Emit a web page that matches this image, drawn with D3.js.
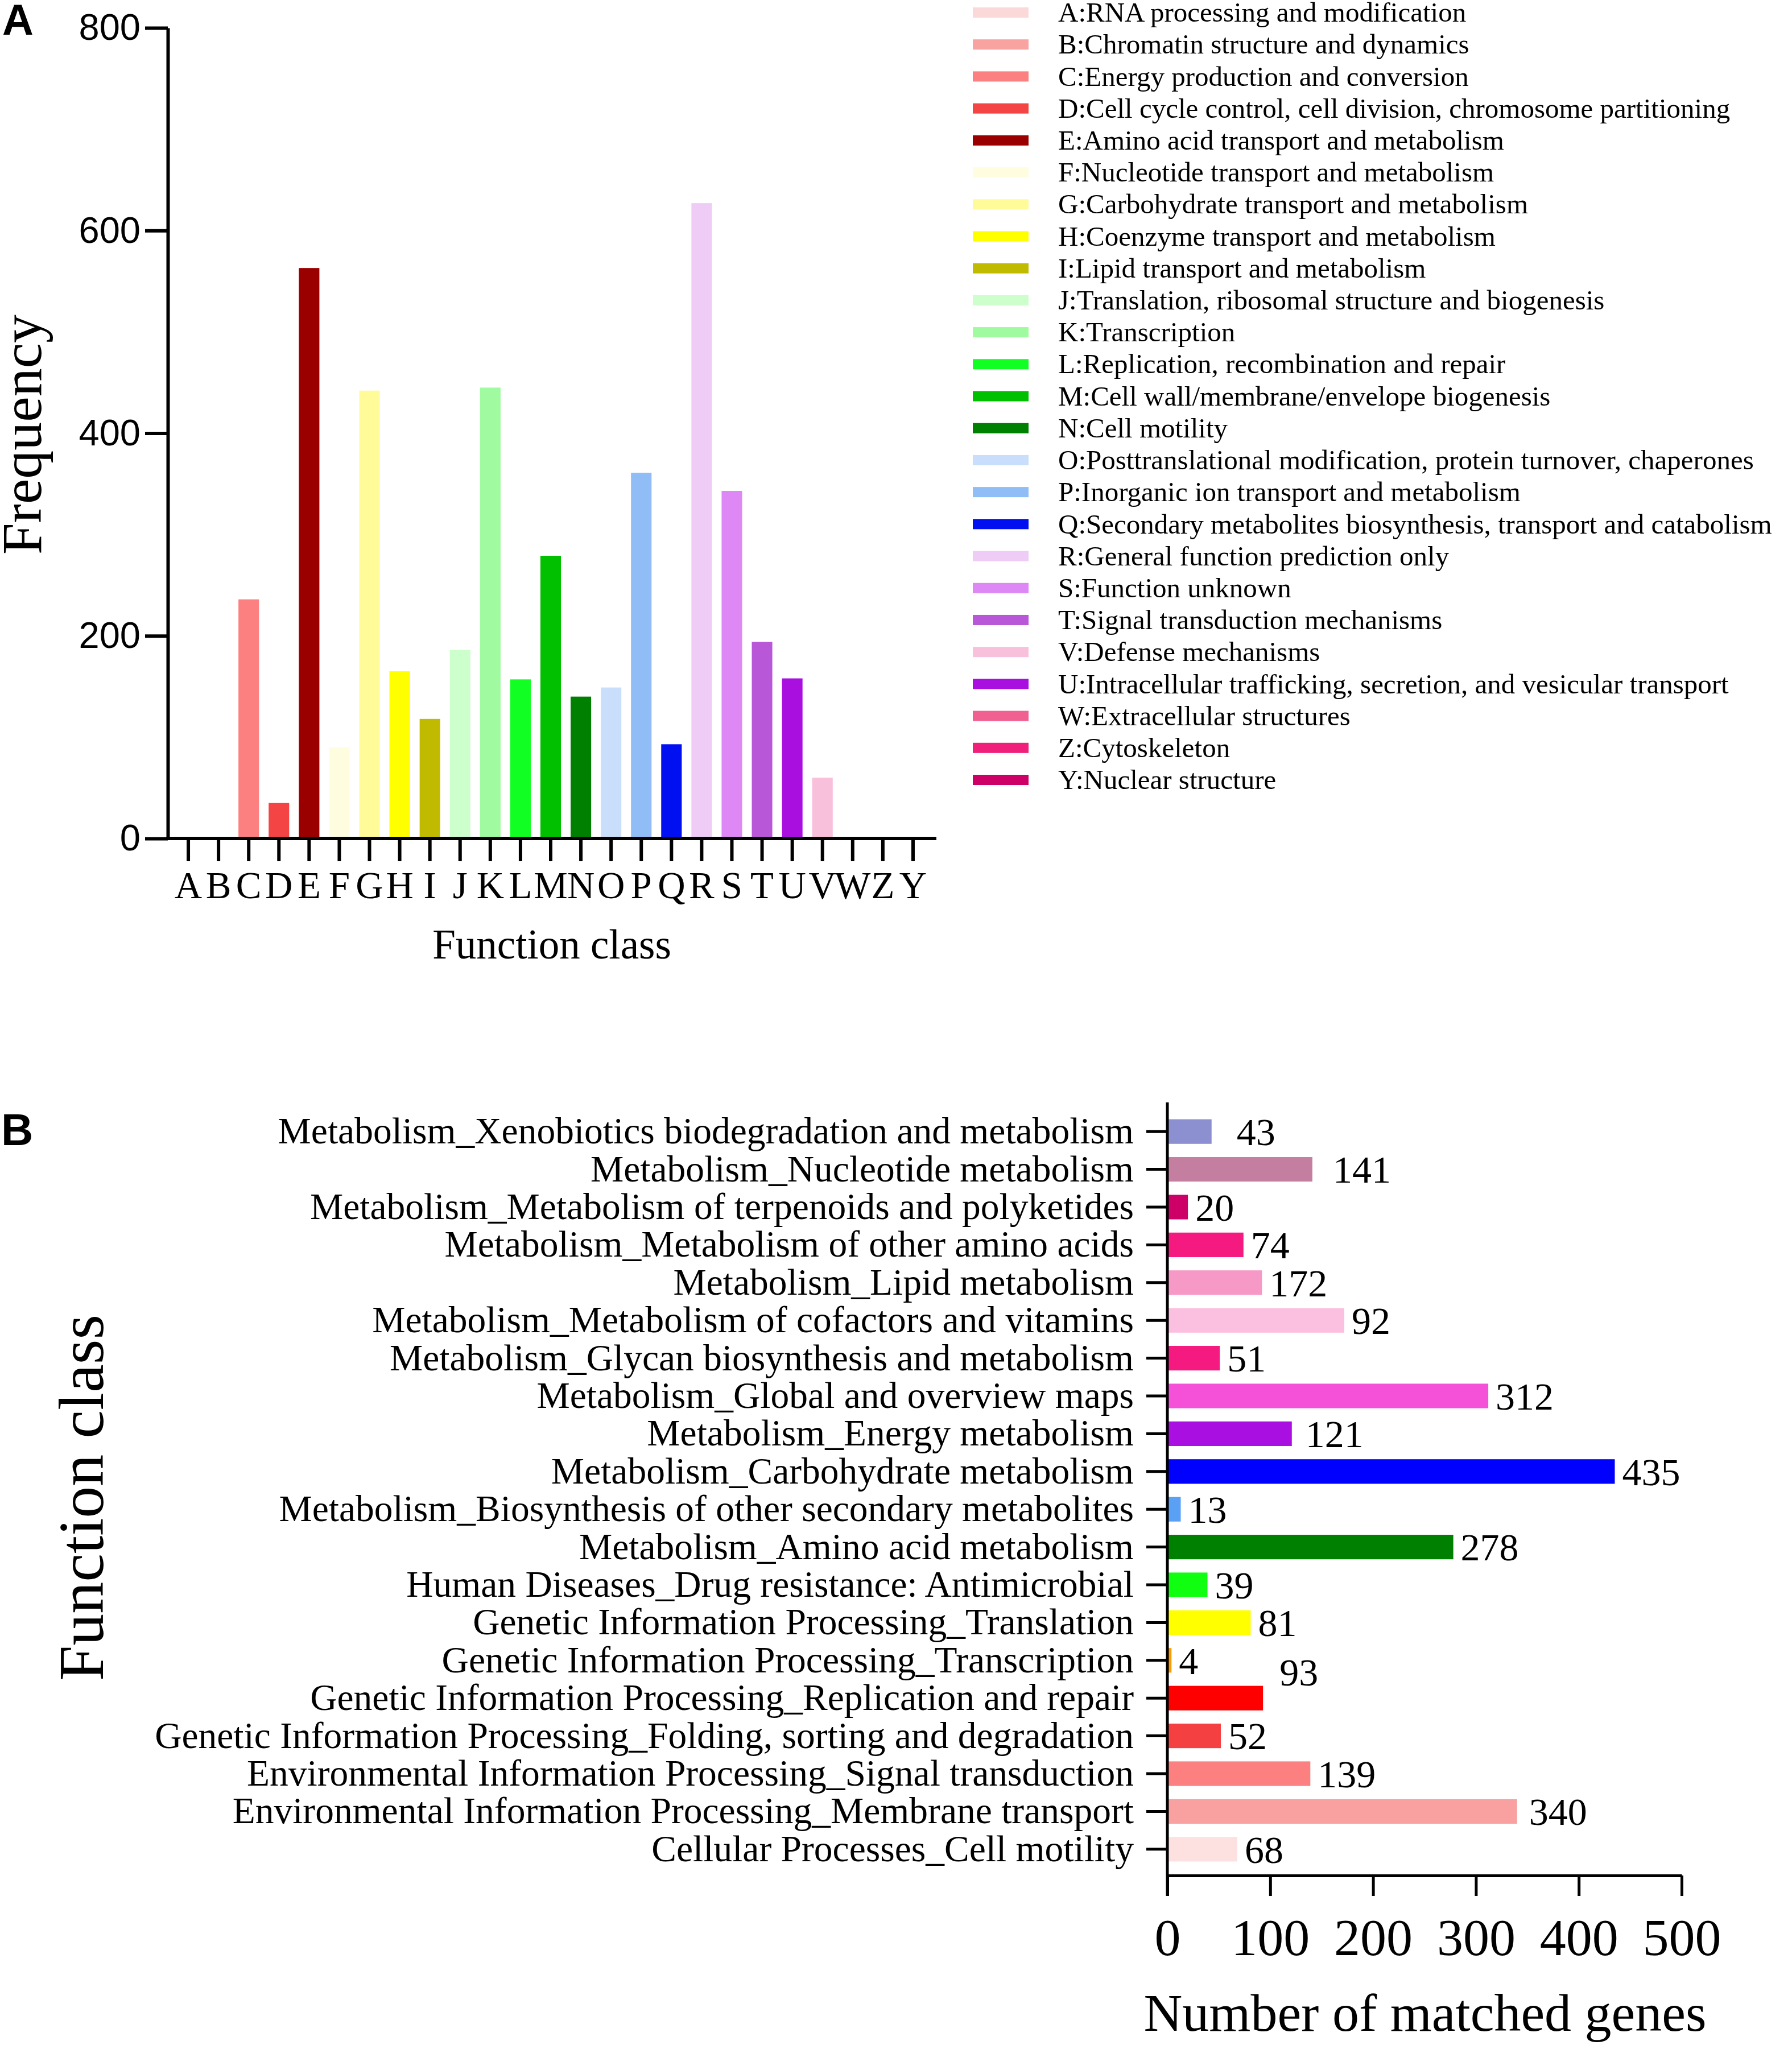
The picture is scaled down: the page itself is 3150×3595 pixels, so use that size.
<!DOCTYPE html>
<html>
<head>
<meta charset="utf-8">
<script src="https://cdn.jsdelivr.net/npm/d3@7"></script>
<style>
  body { margin: 0; background: #fff; }
  svg { display: block; }
</style>
</head>
<body>
<svg id="chart"></svg>
<script>
// Set up the SVG canvas dimensions
const width = 3150;
const height = 3595;
const serif = "'Liberation Serif', 'Times New Roman', serif";
const sans = "'Liberation Sans', Arial, sans-serif";

// Panel A data: COG classes
const cogClasses = ["A","B","C","D","E","F","G","H","I","J","K","L","M","N","O","P","Q","R","S","T","U","V","W","Z","Y"];
const cogFrequency = [0,0,236,35,563,90,442,165,118,186,445,157,279,140,149,361,93,627,343,194,158,60,0,0,0];
const cogColors = ["#fbd9d9","#f9a3a0","#fc8080","#f44444","#9a0000","#fffde0","#fffb99","#ffff00","#c0bb00","#ccffcc",
                   "#a0fba0","#11ff22","#00c000","#008000","#c8defa","#90bdf5","#0010f0","#eeccf6","#dd88f5","#b857d8",
                   "#a910e0","#f9c0dc","#f06090","#f0207a","#cc0066"];
const cogTicks = [0, 200, 400, 600, 800];

// Legend (order as printed)
const legendOrder = ["A","B","C","D","E","F","G","H","I","J","K","L","M","N","O","P","Q","R","S","T","V","U","W","Z","Y"];
const legendText = [
  "A:RNA processing and modification",
  "B:Chromatin structure and dynamics",
  "C:Energy production and conversion",
  "D:Cell cycle control, cell division, chromosome partitioning",
  "E:Amino acid transport and metabolism",
  "F:Nucleotide transport and metabolism",
  "G:Carbohydrate transport and metabolism",
  "H:Coenzyme transport and metabolism",
  "I:Lipid transport and metabolism",
  "J:Translation, ribosomal structure and biogenesis",
  "K:Transcription",
  "L:Replication, recombination and repair",
  "M:Cell wall/membrane/envelope biogenesis",
  "N:Cell motility",
  "O:Posttranslational modification, protein turnover, chaperones",
  "P:Inorganic ion transport and metabolism",
  "Q:Secondary metabolites biosynthesis, transport and catabolism",
  "R:General function prediction only",
  "S:Function unknown",
  "T:Signal transduction mechanisms",
  "V:Defense mechanisms",
  "U:Intracellular trafficking, secretion, and vesicular transport",
  "W:Extracellular structures",
  "Z:Cytoskeleton",
  "Y:Nuclear structure"
];

// Panel B data: KEGG pathways (top to bottom)
const pathways = [
  "Metabolism_Xenobiotics biodegradation and metabolism",
  "Metabolism_Nucleotide metabolism",
  "Metabolism_Metabolism of terpenoids and polyketides",
  "Metabolism_Metabolism of other amino acids",
  "Metabolism_Lipid metabolism",
  "Metabolism_Metabolism of cofactors and vitamins",
  "Metabolism_Glycan biosynthesis and metabolism",
  "Metabolism_Global and overview maps",
  "Metabolism_Energy metabolism",
  "Metabolism_Carbohydrate metabolism",
  "Metabolism_Biosynthesis of other secondary metabolites",
  "Metabolism_Amino acid metabolism",
  "Human Diseases_Drug resistance: Antimicrobial",
  "Genetic Information Processing_Translation",
  "Genetic Information Processing_Transcription",
  "Genetic Information Processing_Replication and repair",
  "Genetic Information Processing_Folding, sorting and degradation",
  "Environmental Information Processing_Signal transduction",
  "Environmental Information Processing_Membrane transport",
  "Cellular Processes_Cell motility"
];
// bar lengths as drawn, and the numbers printed next to them
const pathwayCounts = [43,141,20,74,92,172,51,312,121,435,13,278,39,81,4,93,52,139,340,68];
const pathwayLabels = ["43","141","20","74","172","92","51","312","121","435","13","278","39","81","4","93","52","139","340","68"];
const pathwayColors = ["#8c90d0","#c47fa0","#cc0066","#f51a80","#f799c6","#fbc0df","#f51a80","#f550d8","#a90fe0","#0000ff",
                       "#5aa0f5","#008000","#10ff10","#ffff00","#ff9900","#ff0000","#f44040","#fc8080","#f9a0a0","#fde0e0"];
const geneTicks = [0, 100, 200, 300, 400, 500];

// hand-placed value labels in the original
const labelNudge = { 0: [31, 0], 1: [23, 0], 8: [11, 0], 15: [16, -46], 18: [8, 0] };

const svg = d3.select("#chart")
    .attr("width", width)
    .attr("height", height)
    .style("background", "#fff");

// ---------------- Panel A ----------------
const xA = d3.scaleBand()
    .domain(cogClasses)
    .range([304.5, 1631.5])
    .paddingInner(0.32)
    .paddingOuter(0.16);

const yA = d3.scaleLinear()
    .domain([0, 800])
    .range([1474, 49]);

svg.append("g")
    .selectAll("rect")
    .data(cogClasses)
    .enter()
    .append("rect")
    .attr("x", d => xA(d))
    .attr("width", xA.bandwidth())
    .attr("y", (d, i) => yA(cogFrequency[i]))
    .attr("height", (d, i) => yA(0) - yA(cogFrequency[i]))
    .attr("fill", (d, i) => cogColors[i]);

const yAxisA = svg.append("g")
    .attr("transform", "translate(295,0)")
    .call(d3.axisLeft(yA).tickValues(cogTicks).tickSize(40).tickSizeOuter(0).tickPadding(8));
yAxisA.select(".domain").attr("stroke-width", 6);
yAxisA.selectAll(".tick line").attr("stroke-width", 6);
yAxisA.selectAll("text")
    .attr("font-family", sans)
    .attr("font-size", 65)
    .attr("fill", "#000");

const xAxisA = svg.append("g")
    .attr("transform", "translate(0,1474)")
    .call(d3.axisBottom(xA).tickSize(40).tickSizeOuter(0).tickPadding(17));
xAxisA.select(".domain").remove();
xAxisA.selectAll(".tick line").attr("stroke-width", 6);
xAxisA.selectAll("text")
    .attr("font-family", serif)
    .attr("font-size", 67)
    .attr("fill", "#000");
svg.append("line")
    .attr("x1", 292).attr("x2", 1646)
    .attr("y1", 1474).attr("y2", 1474)
    .attr("stroke", "#000").attr("stroke-width", 6);

svg.append("text")
    .attr("transform", "translate(72,764) rotate(-90)")
    .attr("text-anchor", "middle")
    .attr("font-family", serif)
    .attr("font-size", 100)
    .text("Frequency");

svg.append("text")
    .attr("x", 970).attr("y", 1685)
    .attr("text-anchor", "middle")
    .attr("font-family", serif)
    .attr("font-size", 73)
    .text("Function class");

svg.append("text")
    .attr("x", 4).attr("y", 61)
    .attr("font-family", sans)
    .attr("font-weight", "bold")
    .attr("font-size", 76)
    .text("A");

// Legend
const legendY = d3.scalePoint()
    .domain(legendOrder)
    .range([22, 1371]);

const legend = svg.append("g")
    .selectAll("g")
    .data(legendOrder)
    .enter()
    .append("g")
    .attr("transform", d => `translate(0,${legendY(d)})`);

legend.append("rect")
    .attr("x", 1710).attr("y", -9)
    .attr("width", 98).attr("height", 18)
    .attr("fill", d => cogColors[cogClasses.indexOf(d)]);

legend.append("text")
    .attr("x", 1860).attr("y", 0)
    .attr("dy", "0.33em")
    .attr("font-family", serif)
    .attr("font-size", 49)
    .text((d, i) => legendText[i]);

// ---------------- Panel B ----------------
const yB = d3.scaleBand()
    .domain(pathways)
    .range([1956, 3284])
    .paddingInner(0.35)
    .paddingOuter(0.175);

const xB = d3.scaleLinear()
    .domain([0, 500])
    .range([2052, 2956]);

svg.append("g")
    .selectAll("rect")
    .data(pathways)
    .enter()
    .append("rect")
    .attr("x", xB(0))
    .attr("y", d => yB(d))
    .attr("height", yB.bandwidth())
    .attr("width", (d, i) => xB(pathwayCounts[i]) - xB(0))
    .attr("fill", (d, i) => pathwayColors[i]);

svg.append("g")
    .selectAll("text")
    .data(pathways)
    .enter()
    .append("text")
    .attr("x", (d, i) => xB(pathwayCounts[i]) + 13 + (labelNudge[i] ? labelNudge[i][0] : 0))
    .attr("y", (d, i) => yB(d) + yB.bandwidth() / 2 + (labelNudge[i] ? labelNudge[i][1] : 0))
    .attr("dy", "0.35em")
    .attr("font-family", serif)
    .attr("font-size", 68)
    .text((d, i) => pathwayLabels[i]);

const yAxisB = svg.append("g")
    .attr("transform", "translate(2052,0)")
    .call(d3.axisLeft(yB).tickSize(37).tickSizeOuter(0).tickPadding(22));
yAxisB.select(".domain").remove();
yAxisB.selectAll(".tick line").attr("stroke-width", 5);
yAxisB.selectAll("text")
    .attr("font-family", serif)
    .attr("font-size", 65.5)
    .attr("fill", "#000");
svg.append("line")
    .attr("x1", 2052).attr("x2", 2052)
    .attr("y1", 1938).attr("y2", 3333)
    .attr("stroke", "#000").attr("stroke-width", 5);

const xAxisB = svg.append("g")
    .attr("transform", "translate(0,3297)")
    .call(d3.axisBottom(xB).tickValues(geneTicks).tickSize(36).tickSizeOuter(0).tickPadding(39));
xAxisB.select(".domain").attr("stroke-width", 5);
xAxisB.selectAll(".tick line").attr("stroke-width", 5);
xAxisB.selectAll("text")
    .attr("font-family", serif)
    .attr("font-size", 92)
    .attr("fill", "#000");

svg.append("text")
    .attr("x", 2505).attr("y", 3570)
    .attr("text-anchor", "middle")
    .attr("font-family", serif)
    .attr("font-size", 94)
    .text("Number of matched genes");

svg.append("text")
    .attr("transform", "translate(181,2633) rotate(-90)")
    .attr("text-anchor", "middle")
    .attr("font-family", serif)
    .attr("font-size", 112)
    .text("Function class");

svg.append("text")
    .attr("x", 2).attr("y", 2013)
    .attr("font-family", sans)
    .attr("font-weight", "bold")
    .attr("font-size", 78)
    .text("B");
</script>
</body>
</html>
